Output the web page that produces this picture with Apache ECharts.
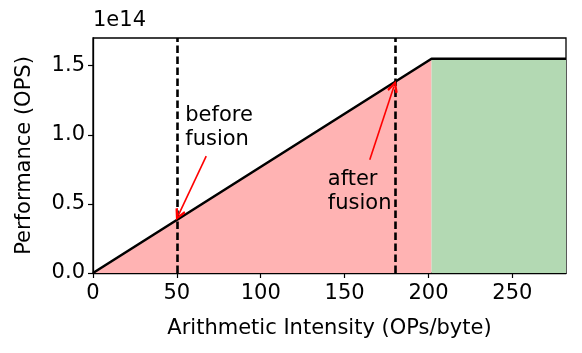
<!DOCTYPE html>
<html lang="en">
<head>
    <meta charset="UTF-8">
    <title>Roofline</title>
    <script src="https://cdn.jsdelivr.net/npm/echarts@6/dist/echarts.min.js"></script>
    <style>
        html, body { margin: 0; padding: 0; background: #fff; }
        #main { width: 582px; height: 353px; }
    </style>
</head>
<body>
    <div id="main"></div>
    <script>
        // roofline: peak ops and memory bandwidth
        var peakOps = 1.55e14;
        var bandwidth = 7.68e11;
        var ridge = peakOps / bandwidth;
        var xMax = 282;
        var yMax = 1.7e14;

        var roofline = [[0, 0], [ridge, peakOps], [xMax, peakOps]];
        var memBound = [[0, 0], [ridge, peakOps]];
        var computeBound = [[ridge, peakOps], [xMax, peakOps]];

        var xTicks = [0, 50, 100, 150, 200, 250];
        var yTicks = [0, 0.5e14, 1.0e14, 1.5e14];

        var markers = [50, 180];
        var notes = [
            { text: 'before\nfusion', at: [55.0, 1.05e14] },
            { text: 'after\nfusion', at: [140.0, 0.59e14] }
        ];
        var arrows = [
            [[67.5, 0.845e14], [51, 0.42e14]],
            [[165, 0.82e14], [179.4, 1.35e14]]
        ];

        // open "->" style head, tip pointing up
        var vHead = 'path://M5,0 L10,8.6 L8.2,9.8 L5,4 L1.8,9.8 L0,8.6 Z';

        var font = 'DejaVu Sans';
        var fs = 21;
        var myChart = echarts.init(document.getElementById('main'));
        var option = {
            animation: false,
            textStyle: { fontFamily: font },
            grid: {
                left: 93, top: 38, right: 16, bottom: 80,
                show: true, borderColor: '#000', borderWidth: 1.3,
                backgroundColor: 'transparent'
            },
            graphic: [{
                type: 'text', left: 93, top: 10,
                style: { text: '1e14', font: fs + 'px DejaVu Sans', fill: '#000' }
            }],
            xAxis: {
                type: 'value', min: 0, max: xMax,
                name: 'Arithmetic Intensity (OPs/byte)',
                nameLocation: 'middle', nameGap: 45,
                nameTextStyle: { fontSize: fs, color: '#000', fontFamily: font },
                splitLine: { show: false },
                axisLine: { show: true, lineStyle: { color: '#000', width: 1.3 } },
                axisTick: { show: true, length: 5, lineStyle: { color: '#000', width: 1.2 }, customValues: xTicks },
                axisLabel: { fontSize: fs, color: '#000', margin: 10, customValues: xTicks }
            },
            yAxis: {
                type: 'value', min: 0, max: yMax,
                name: 'Performance (OPS)',
                nameLocation: 'middle', nameGap: 58,
                nameTextStyle: { fontSize: fs, color: '#000', fontFamily: font },
                splitLine: { show: false },
                axisLine: { show: true, lineStyle: { color: '#000', width: 1.3 } },
                axisTick: { show: true, length: 5, lineStyle: { color: '#000', width: 1.2 }, customValues: yTicks },
                axisLabel: {
                    fontSize: fs, color: '#000', margin: 8, customValues: yTicks,
                    formatter: function (v) { return (v / 1e14).toFixed(1); }
                }
            },
            series: [
                {
                    type: 'line', data: memBound, symbol: 'none',
                    lineStyle: { width: 0 },
                    areaStyle: { color: '#ffb3b3', opacity: 1 }
                },
                {
                    type: 'line', data: computeBound, symbol: 'none',
                    lineStyle: { width: 0 },
                    areaStyle: { color: '#b3d9b3', opacity: 1 }
                },
                {
                    type: 'line', data: roofline, symbol: 'none',
                    lineStyle: { color: '#000', width: 2.6 },
                    markLine: {
                        silent: true, symbol: 'none', animation: false,
                        label: { show: false },
                        lineStyle: { color: '#000', width: 2.6, type: [7.5, 3.5] },
                        data: markers.map(function (m) { return { xAxis: m }; })
                    },
                    markPoint: {
                        silent: true, symbol: 'circle', symbolSize: 0,
                        label: {
                            show: true, position: 'right', distance: 0,
                            formatter: function (p) { return p.name; },
                            fontSize: fs, lineHeight: 24, color: '#000', fontFamily: font
                        },
                        data: notes.map(function (n) { return { coord: n.at, name: n.text }; })
                    }
                },
                {
                    type: 'line', data: [], symbol: 'none', z: 5,
                    markLine: {
                        silent: true, symbol: ['none', vHead], symbolSize: [11, 12],
                        label: { show: false },
                        lineStyle: { color: '#ff0000', width: 1.6, type: 'solid' },
                        data: arrows.map(function (a) {
                            return [{ coord: a[0] }, { coord: a[1] }];
                        })
                    }
                }
            ]
        };
        myChart.setOption(option);
    </script>
</body>
</html>
